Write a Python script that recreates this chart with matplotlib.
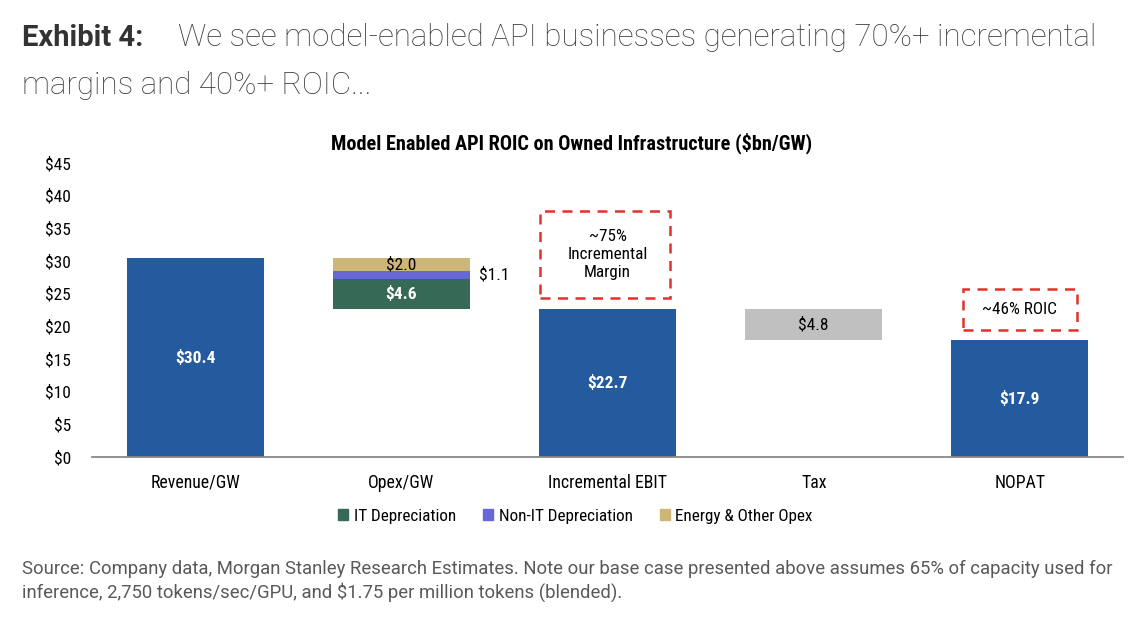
import matplotlib
matplotlib.use("Agg")
import matplotlib.pyplot as plt
from matplotlib import font_manager
from matplotlib.patches import Rectangle, Patch

# pick a narrow font if one is installed
installed = {f.name for f in font_manager.fontManager.ttflist}
narrow = "DejaVu Sans"
for name in ["Roboto Condensed", "Liberation Sans Narrow", "Open Sans Condensed", "Roboto"]:
    if name in installed:
        narrow = name
        break
body = "Roboto" if "Roboto" in installed else "DejaVu Sans"

# data ($bn/GW)
categories = ["Revenue/GW", "Opex/GW", "Incremental EBIT", "Tax", "NOPAT"]
revenue = 30.4
it_dep = 4.6
non_it_dep = 1.1
energy_opex = 2.0
ebit = 22.7
tax = 4.8
nopat = 17.9
yticks = [0, 5, 10, 15, 20, 25, 30, 35, 40, 45]

c_blue = "#235B9E"
c_it = "#376A56"
c_nonit = "#6668D8"
c_energy = "#CDB676"
c_tax = "#C0C0C0"
c_red = "#E0332B"

fig = plt.figure(figsize=(11.44, 6.28), dpi=100)
ax = fig.add_axes([92 / 1144, 1 - 457 / 628, 1031 / 1144, 294 / 628])

w = 0.665
x = range(len(categories))

# waterfall bars
ax.bar(0, revenue, w, color=c_blue)
opex_base = revenue - it_dep - non_it_dep - energy_opex
ax.bar(1, it_dep, w, bottom=opex_base, color=c_it)
ax.bar(1, non_it_dep, w, bottom=opex_base + it_dep, color=c_nonit)
ax.bar(1, energy_opex, w, bottom=opex_base + it_dep + non_it_dep, color=c_energy)
ax.bar(2, ebit, w, color=c_blue)
ax.bar(3, tax, w, bottom=ebit - tax, color=c_tax)
ax.bar(4, nopat, w, color=c_blue)

lab = dict(family=narrow, fontsize=12.5, fontweight="bold", ha="center", va="center")
plain = dict(family=narrow, fontsize=12.5, va="center")
ax.text(0, revenue / 2, f"${revenue:.1f}", color="white", **lab)
ax.text(1, opex_base + it_dep / 2, f"${it_dep:.1f}", color="white", **lab)
ax.text(1, opex_base + it_dep + non_it_dep + energy_opex / 2, f"${energy_opex:.1f}", color="black",
        ha="center", **plain)
ax.text(1 + w / 2 + 0.045, opex_base + it_dep + non_it_dep / 2, f"${non_it_dep:.1f}", color="black",
        ha="left", **plain)
ax.text(2, ebit / 2, f"${ebit:.1f}", color="white", **lab)
ax.text(3, ebit - tax / 2, f"${tax:.1f}", color="black", ha="center", **plain)
ax.text(4, nopat / 2, f"${nopat:.1f}", color="white", **lab)

# dashed callout boxes
box1 = Rectangle((2 - 0.325, ebit + 1.6), 0.63, 13.4, fill=False, ec=c_red, lw=1.8, ls=(0, (4, 3)))
ax.add_patch(box1)
ax.text(2, ebit + 1.6 + 6.7, "~75%\nIncremental\nMargin", family=narrow, fontsize=12.3,
        ha="center", va="center", linespacing=1.25)
box2 = Rectangle((4 - 0.277, nopat + 1.5), 0.554, 6.3, fill=False, ec=c_red, lw=1.8, ls=(0, (4, 3)))
ax.add_patch(box2)
ax.text(4, nopat + 1.5 + 3.15, "~46% ROIC", family=narrow, fontsize=12.3, ha="center", va="center")

ax.set_xlim(-0.5, 4.5)
ax.set_ylim(0, 45)
ax.set_yticks(yticks)
ax.set_yticklabels([f"${v}" for v in yticks])
ax.set_xticks(list(x))
ax.set_xticklabels(categories)
ax.tick_params(axis="both", length=0, labelsize=12.5)
ax.tick_params(axis="x", labelsize=12.8, pad=12)
ax.tick_params(axis="y", pad=15)
for t in ax.get_xticklabels() + ax.get_yticklabels():
    t.set_family(narrow)
for s in ["top", "right", "left"]:
    ax.spines[s].set_visible(False)
ax.spines["bottom"].set_color("#888888")
ax.spines["bottom"].set_linewidth(1.3)

fig.text(0.5, 1 - 143 / 628, "Model Enabled API ROIC on Owned Infrastructure ($bn/GW)", family=narrow,
         fontsize=14.6, fontweight="bold", ha="center", va="center")

handles = [Patch(color=c_it, label="IT Depreciation"),
           Patch(color=c_nonit, label="Non-IT Depreciation"),
           Patch(color=c_energy, label="Energy & Other Opex")]
fig.legend(handles=handles, loc="center", bbox_to_anchor=(0.503, 1 - 516 / 628), ncol=3,
           frameon=False, handlelength=0.6, handleheight=0.6, handletextpad=0.3,
           columnspacing=1.6, prop={"family": narrow, "size": 12.3})

# header and footer
fig.text(22 / 1144, 1 - 38 / 628, "Exhibit 4:", family=body, fontsize=21, fontweight="bold",
         color="#333333", va="center")
fig.text(178 / 1144, 1 - 38 / 628, "We see model-enabled API businesses generating 70%+ incremental",
         family=body, fontsize=22.5, fontweight="light", color="#3c3c3c", va="center")
fig.text(22 / 1144, 1 - 86 / 628, "margins and 40%+ ROIC...", family=body, fontsize=22.5,
         fontweight="light", color="#3c3c3c", va="center")
fig.text(22 / 1144, 1 - 569 / 628,
         "Source: Company data, Morgan Stanley Research Estimates. Note our base case presented above assumes 65% of capacity used for",
         family=body, fontsize=13.3, color="#595959", va="center")
fig.text(22 / 1144, 1 - 592 / 628,
         "inference, 2,750 tokens/sec/GPU, and $1.75 per million tokens (blended).",
         family=body, fontsize=13.3, color="#595959", va="center")

fig.savefig("out.png", dpi=100)
